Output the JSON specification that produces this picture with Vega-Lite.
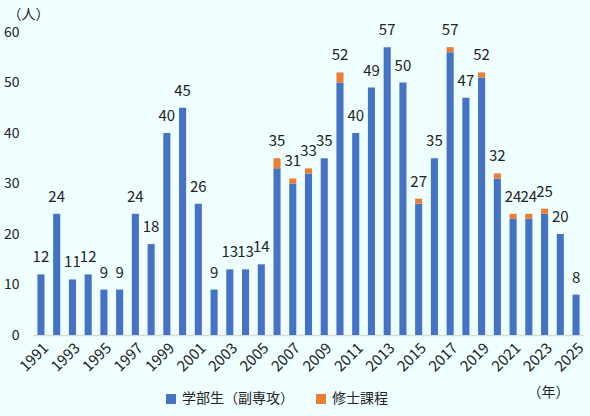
{
  "$schema": "https://vega.github.io/schema/vega-lite/v6.json",
  "width": 551,
  "height": 303,
  "autosize": {"type": "none"},
  "padding": {"left": 33, "top": 32, "right": 6, "bottom": 81},
  "background": "#EFFFFF",
  "config": {
    "font": "Noto Sans CJK JP",
    "view": {"stroke": null},
    "axis": {"labelFont": "Noto Sans CJK JP", "titleFont": "Noto Sans CJK JP", "labelColor": "#222222", "titleColor": "#222222"}
  },
  "data": {
    "values": [
      {"year": "1991", "type": "学部生（副専攻）", "value": 12},
      {"year": "1992", "type": "学部生（副専攻）", "value": 24},
      {"year": "1993", "type": "学部生（副専攻）", "value": 11},
      {"year": "1994", "type": "学部生（副専攻）", "value": 12},
      {"year": "1995", "type": "学部生（副専攻）", "value": 9},
      {"year": "1996", "type": "学部生（副専攻）", "value": 9},
      {"year": "1997", "type": "学部生（副専攻）", "value": 24},
      {"year": "1998", "type": "学部生（副専攻）", "value": 18},
      {"year": "1999", "type": "学部生（副専攻）", "value": 40},
      {"year": "2000", "type": "学部生（副専攻）", "value": 45},
      {"year": "2001", "type": "学部生（副専攻）", "value": 26},
      {"year": "2002", "type": "学部生（副専攻）", "value": 9},
      {"year": "2003", "type": "学部生（副専攻）", "value": 13},
      {"year": "2004", "type": "学部生（副専攻）", "value": 13},
      {"year": "2005", "type": "学部生（副専攻）", "value": 14},
      {"year": "2006", "type": "学部生（副専攻）", "value": 33},
      {"year": "2006", "type": "修士課程", "value": 2},
      {"year": "2007", "type": "学部生（副専攻）", "value": 30},
      {"year": "2007", "type": "修士課程", "value": 1},
      {"year": "2008", "type": "学部生（副専攻）", "value": 32},
      {"year": "2008", "type": "修士課程", "value": 1},
      {"year": "2009", "type": "学部生（副専攻）", "value": 35},
      {"year": "2010", "type": "学部生（副専攻）", "value": 50},
      {"year": "2010", "type": "修士課程", "value": 2},
      {"year": "2011", "type": "学部生（副専攻）", "value": 40},
      {"year": "2012", "type": "学部生（副専攻）", "value": 49},
      {"year": "2013", "type": "学部生（副専攻）", "value": 57},
      {"year": "2014", "type": "学部生（副専攻）", "value": 50},
      {"year": "2015", "type": "学部生（副専攻）", "value": 26},
      {"year": "2015", "type": "修士課程", "value": 1},
      {"year": "2016", "type": "学部生（副専攻）", "value": 35},
      {"year": "2017", "type": "学部生（副専攻）", "value": 56},
      {"year": "2017", "type": "修士課程", "value": 1},
      {"year": "2018", "type": "学部生（副専攻）", "value": 47},
      {"year": "2019", "type": "学部生（副専攻）", "value": 51},
      {"year": "2019", "type": "修士課程", "value": 1},
      {"year": "2020", "type": "学部生（副専攻）", "value": 31},
      {"year": "2020", "type": "修士課程", "value": 1},
      {"year": "2021", "type": "学部生（副専攻）", "value": 23},
      {"year": "2021", "type": "修士課程", "value": 1},
      {"year": "2022", "type": "学部生（副専攻）", "value": 23},
      {"year": "2022", "type": "修士課程", "value": 1},
      {"year": "2023", "type": "学部生（副専攻）", "value": 24},
      {"year": "2023", "type": "修士課程", "value": 1},
      {"year": "2024", "type": "学部生（副専攻）", "value": 20},
      {"year": "2025", "type": "学部生（副専攻）", "value": 8}
    ]
  },
  "encoding": {
    "x": {
      "field": "year",
      "type": "ordinal",
      "scale": {"paddingInner": 0.55, "paddingOuter": 0.28},
      "title": "（年）",
      "axis": {
        "values": ["1991", "1993", "1995", "1997", "1999", "2001", "2003", "2005", "2007", "2009", "2011", "2013", "2015", "2017", "2019", "2021", "2023", "2025"],
        "labelAngle": -45,
        "labelAlign": "right",
        "labelBaseline": "top",
        "labelFontSize": 15,
        "labelPadding": 5,
        "ticks": false,
        "domainColor": "#D9D9D9",
        "domainWidth": 1.5,
        "titleFontSize": 14,
        "titleFontWeight": "normal",
        "titleX": 515,
        "titleY": 57,
        "titleAlign": "center",
        "titleBaseline": "middle"
      }
    }
  },
  "layer": [
    {
      "mark": {"type": "bar"},
      "encoding": {
        "y": {
          "field": "value",
          "type": "quantitative",
          "aggregate": "sum",
          "stack": "zero",
          "scale": {"domain": [0, 60]},
          "title": "（人）",
          "axis": {
            "values": [0, 10, 20, 30, 40, 50, 60],
            "grid": false,
            "ticks": false,
            "domain": false,
            "labelFontSize": 14,
            "labelPadding": 14,
            "titleAngle": 0,
            "titleFontSize": 14,
            "titleFontWeight": "normal",
            "titleX": -5,
            "titleY": -18,
            "titleAlign": "center",
            "titleBaseline": "middle"
          }
        },
        "color": {
          "field": "type",
          "type": "nominal",
          "scale": {"domain": ["学部生（副専攻）", "修士課程"], "range": ["#4472C4", "#ED7D31"]},
          "legend": {
            "title": null,
            "orient": "none",
            "direction": "horizontal",
            "legendX": 131,
            "legendY": 360,
            "symbolType": "square",
            "symbolSize": 100,
            "symbolStrokeWidth": 0,
            "labelFontSize": 14,
            "labelColor": "#222222",
            "columnPadding": 20
          }
        },
        "order": {"field": "type", "sort": "descending"}
      }
    },
    {
      "mark": {"type": "text", "baseline": "middle", "dy": -17, "fontSize": 15, "color": "#222222"},
      "encoding": {
        "y": {"field": "value", "type": "quantitative", "aggregate": "sum"},
        "text": {"field": "value", "type": "quantitative", "aggregate": "sum"}
      }
    }
  ]
}
